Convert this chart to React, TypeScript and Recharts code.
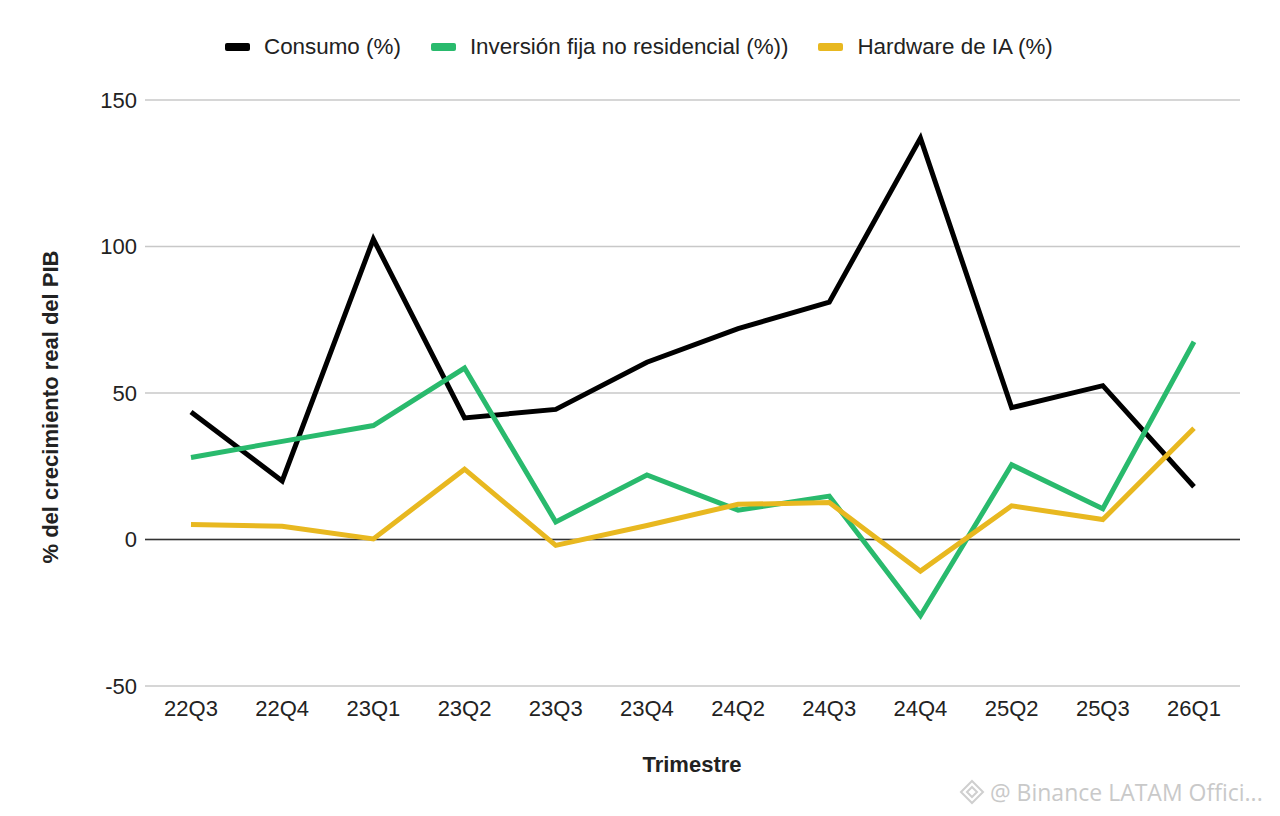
import React from 'react';
import {
  LineChart,
  Line,
  XAxis,
  YAxis,
  CartesianGrid,
  ReferenceLine,
  Label
} from 'recharts';

// Trimestres del eje X
const quarters = ['22Q3', '22Q4', '23Q1', '23Q2', '23Q3', '23Q4', '24Q2', '24Q3', '24Q4', '25Q2', '25Q3', '26Q1'];

const consumo = [43.5, 20, 102.5, 41.5, 44.4, 60.5, 72, 81, 137, 45, 52.5, 18];
const inversion = [28, 33.5, 38.9, 58.5, 6, 22, 10, 14.8, -26, 25.5, 10.5, 67.5];
const hardwareIA = [5.1, 4.5, 0.2, 24, -2, 4.8, 12, 12.6, -10.8, 11.5, 6.8, 38];

const yTicks = [-50, 0, 50, 100, 150];

const series = [
  { key: 'consumo', name: 'Consumo (%)', color: '#000000' },
  { key: 'inversion', name: 'Inversión fija no residencial (%))', color: '#29ba6d' },
  { key: 'hardware', name: 'Hardware de IA (%)', color: '#e8b820' }
];

const data = quarters.map((q, i) => ({
  quarter: q,
  consumo: consumo[i],
  inversion: inversion[i],
  hardware: hardwareIA[i]
}));

const FONT = '"Liberation Sans", Arial, Helvetica, sans-serif';

const App: React.FC = () => {
  return (
    <div style={{ position: 'relative', width: 1280, height: 816, background: '#fff', fontFamily: FONT }}>
      <style>{`body { margin: 0; background: #fff; }`}</style>

      {/* Leyenda arriba */}
      <div
        style={{
          position: 'absolute',
          top: 34,
          left: 225,
          display: 'flex',
          alignItems: 'center',
          fontSize: 22.4,
          color: '#222',
          whiteSpace: 'nowrap'
        }}
      >
        {series.map((s, i) => (
          <div key={s.key} style={{ display: 'flex', alignItems: 'center', marginRight: 30 }}>
            <span
              style={{
                display: 'inline-block',
                width: 25,
                height: 8,
                borderRadius: 2,
                background: s.color,
                marginRight: 14
              }}
            />
            <span>{s.name}</span>
          </div>
        ))}
      </div>

      <LineChart
        width={1280}
        height={816}
        data={data}
        margin={{ top: 100, right: 40, left: 0, bottom: 0 }}
      >
        <CartesianGrid vertical={false} stroke="#c8c8c8" strokeWidth={1.5} />
        <XAxis
          dataKey="quarter"
          height={130}
          padding={{ left: 46, right: 46 }}
          axisLine={false}
          tickLine={false}
          tickMargin={8}
          interval={0}
          tick={{ fontSize: 22, fill: '#222', fontFamily: FONT }}
        >
          <Label
            content={() => (
              <text x={692} y={772} textAnchor="middle" fontSize={22} fontWeight={700} fill="#222" fontFamily={FONT}>
                Trimestre
              </text>
            )}
          />
        </XAxis>
        <YAxis
          width={145}
          domain={[-50, 150]}
          ticks={yTicks}
          axisLine={false}
          tickLine={false}
          tick={{ fontSize: 22, fill: '#222', fontFamily: FONT }}
        >
          <Label
            content={() => (
              <text
                x={58}
                y={407}
                transform="rotate(-90 58 407)"
                textAnchor="middle"
                fontSize={22}
                fontWeight={700}
                fill="#222"
                fontFamily={FONT}
              >
                % del crecimiento real del PIB
              </text>
            )}
          />
        </YAxis>
        <ReferenceLine y={0} stroke="#333" strokeWidth={1.5} />
        {series.map((s) => (
          <Line
            key={s.key}
            type="linear"
            dataKey={s.key}
            name={s.name}
            stroke={s.color}
            strokeWidth={5}
            dot={false}
            activeDot={false}
            isAnimationActive={false}
          />
        ))}
      </LineChart>

      {/* Marca de agua */}
      <div
        style={{
          position: 'absolute',
          left: 958,
          top: 776,
          display: 'flex',
          alignItems: 'center',
          color: '#c9c9c9',
          fontSize: 23,
          fontFamily: '"Open Sans", sans-serif',
          whiteSpace: 'nowrap'
        }}
      >
        <svg width={28} height={28} viewBox="0 0 28 28" style={{ marginRight: 4 }}>
          <g fill="none" stroke="#cfcfcf" strokeWidth={2}>
            <path d="M14 3 L25 14 L14 25 L3 14 Z" />
            <path d="M14 9 L19 14 L14 19 L9 14 Z" />
          </g>
        </svg>
        <span>@ Binance LATAM Offici...</span>
      </div>
    </div>
  );
};

export default App;
